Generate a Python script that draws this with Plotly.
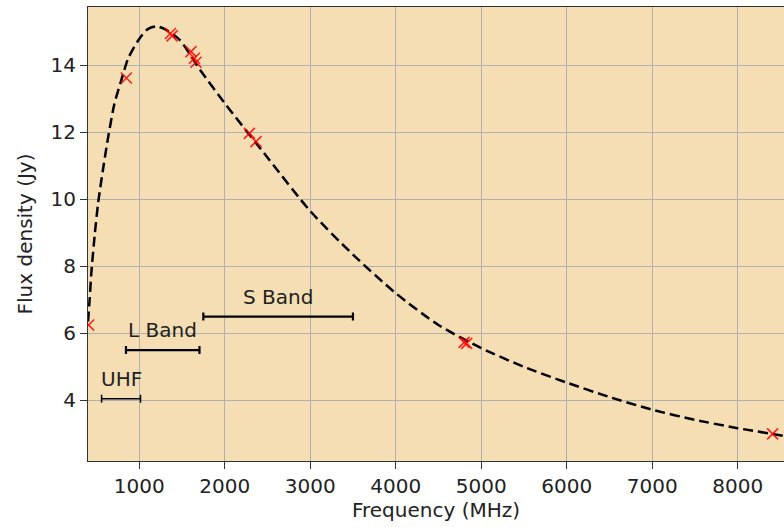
import plotly.graph_objects as go

# Measured flux densities (red crosses)
meas_freq = [408, 850, 1365, 1385, 1606, 1646, 1664, 2289, 2366, 4800, 4830, 8409]
meas_flux = [6.25, 13.62, 14.95, 14.88, 14.41, 14.21, 14.09, 11.97, 11.72, 5.73, 5.70, 3.00]

# Fitted model curve
fit_freq = [401, 420, 440, 480, 520, 580, 640, 710, 790, 870, 990, 1100, 1200, 1300,
            1470, 1710, 2000, 2500, 3000, 3500, 4000, 4500, 5000, 5500, 6000, 6500,
            7000, 7500, 8000, 8542]
fit_flux = [6.35, 7.0, 7.8, 8.95, 9.9, 10.95, 11.9, 12.85, 13.55, 14.2, 14.75, 15.08,
            15.16, 15.08, 14.77, 13.87, 12.87, 11.25, 9.65, 8.35, 7.2, 6.25, 5.56, 5.0,
            4.53, 4.1, 3.72, 3.42, 3.17, 2.94]

# Receiver bands
band_names = ["UHF", "L Band", "S Band"]
band_lo = [560, 845, 1750]
band_hi = [1015, 1705, 3500]
band_y = [4.05, 5.5, 6.5]
band_lw = [1.5, 2.2, 2.2]

FONT = "DejaVu Sans"
FS = 20

fig = go.Figure()

fig.add_trace(go.Scatter(
    x=fit_freq, y=fit_flux, mode="lines",
    line=dict(color="black", width=2.5, dash="10px,5px", shape="spline", smoothing=0.7),
    showlegend=False, hoverinfo="skip"))

fig.add_trace(go.Scatter(
    x=meas_freq, y=meas_flux, mode="markers",
    marker=dict(symbol="x-thin", size=11, color="red", opacity=0.85,
                line=dict(color="red", width=1.6)),
    showlegend=False))

for name, lo, hi, y, lw in zip(band_names, band_lo, band_hi, band_y, band_lw):
    c = (lo + hi) / 2
    h = (hi - lo) / 2
    fig.add_trace(go.Scatter(
        x=[c], y=[y], mode="markers",
        marker=dict(size=0.1, color="black"),
        error_x=dict(type="data", array=[h], symmetric=True, color="black",
                     thickness=lw, width=4),
        showlegend=False, hoverinfo="skip"))
    fig.add_annotation(x=c, y=y + 0.17, text=name, showarrow=False,
                       yanchor="bottom", xanchor="center",
                       font=dict(family=FONT, size=FS, color="#222"))

fig.update_layout(
    width=784, height=527,
    margin=dict(l=88, r=0, t=7, b=66),
    paper_bgcolor="white", plot_bgcolor="#f5deb3",
    font=dict(family=FONT, size=FS, color="#222"),
)
fig.update_xaxes(
    range=[401, 8542], dtick=1000, tick0=0, automargin=False,
    showgrid=True, gridcolor="#b0b0b0", gridwidth=1.2, zeroline=False,
    showline=True, linecolor="#333", linewidth=1.2, mirror=True,
    ticks="outside", ticklen=7, tickcolor="#333",
    title=dict(text="Frequency (MHz)", standoff=4, font=dict(size=FS)),
    tickfont=dict(size=FS))
fig.update_yaxes(
    range=[2.19, 15.74], tickvals=[4, 6, 8, 10, 12, 14], automargin=False,
    showgrid=True, gridcolor="#b0b0b0", gridwidth=1.2, zeroline=False,
    showline=True, linecolor="#333", linewidth=1.2,
    ticks="outside", ticklen=7, tickcolor="#333",
    title=dict(text="Flux density (Jy)", standoff=12, font=dict(size=FS)),
    tickfont=dict(size=FS))

fig.write_html(
    "out.html",
    config={"displayModeBar": False},
    post_script="document.body.style.margin='0';document.body.style.overflow='hidden';",
)
